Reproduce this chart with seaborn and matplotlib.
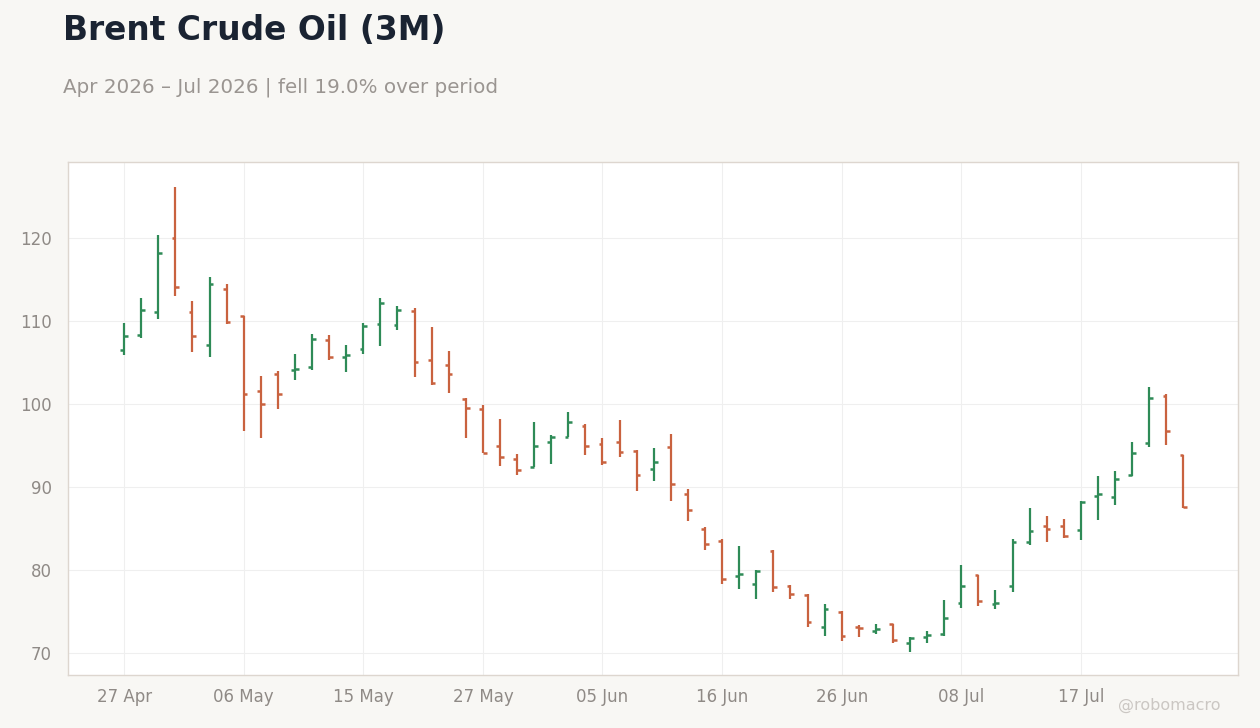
import numpy as np
import pandas as pd
import matplotlib
matplotlib.use("Agg")
import matplotlib.pyplot as plt
import seaborn as sns

# trading days (US calendar, holidays skipped)
dates = pd.bdate_range("2026-04-27", "2026-07-27", freq="C",
                       holidays=["2026-05-25", "2026-06-19", "2026-07-03"])

opens = [106.5, 108.4, 111.1, 120.1, 111.1, 107.1, 113.9, 110.6, 101.6, 103.6,
         104.1, 104.5, 107.8, 105.7, 106.7, 109.7, 109.6, 111.3, 105.3, 104.7,
         100.6, 99.4, 95.0, 93.4, 92.5, 95.5, 96.1, 97.4, 95.2, 95.5,
         94.4, 92.2, 94.9, 89.2, 85.0, 83.6, 79.3, 78.4, 82.3, 78.1,
         77.0, 73.2, 75.0, 73.2, 72.7, 73.5, 71.2, 72.0, 72.3, 76.1,
         79.4, 76.0, 78.1, 83.4, 85.3, 85.3, 84.9, 89.0, 88.9, 91.5,
         95.3, 101.0, 93.9]
highs = [109.8, 112.8, 120.4, 126.2, 112.4, 115.3, 114.5, 110.6, 103.4, 104.0,
         106.1, 108.5, 108.4, 107.2, 109.8, 112.8, 111.9, 111.6, 109.3, 106.4,
         100.8, 99.9, 98.2, 94.0, 97.9, 96.3, 99.1, 97.6, 95.9, 98.1,
         94.5, 94.7, 96.4, 89.8, 85.2, 83.8, 83.0, 80.1, 82.4, 78.2,
         77.1, 75.9, 75.1, 73.4, 73.5, 73.5, 72.0, 72.7, 76.4, 80.6,
         79.5, 77.6, 83.8, 87.5, 86.6, 86.2, 88.4, 91.4, 92.0, 95.5,
         102.1, 101.2, 93.9]
lows = [105.9, 108.0, 110.3, 113.1, 106.3, 105.7, 109.7, 96.8, 96.0, 99.5,
        102.9, 104.2, 105.4, 103.9, 106.1, 107.0, 109.0, 103.3, 102.3, 101.4,
        96.0, 94.2, 92.6, 91.5, 92.4, 92.8, 96.1, 93.9, 92.7, 93.7,
        89.6, 90.8, 88.4, 85.9, 82.4, 78.4, 77.8, 76.6, 77.4, 76.5,
        73.2, 72.1, 71.5, 72.0, 72.3, 71.2, 70.2, 71.2, 72.1, 75.5,
        75.7, 75.4, 77.4, 83.1, 83.4, 83.9, 83.7, 86.1, 87.9, 91.4,
        94.9, 95.1, 87.5]
closes = [108.2, 111.4, 118.2, 114.1, 108.2, 114.5, 109.9, 101.2, 100.0, 101.3,
          104.3, 107.9, 105.7, 105.9, 109.4, 112.2, 111.4, 105.1, 102.6, 103.6,
          99.6, 94.2, 93.7, 92.1, 95.0, 96.1, 97.9, 95.0, 93.1, 94.3,
          91.5, 93.1, 90.4, 87.3, 83.2, 79.0, 79.6, 79.9, 78.0, 77.1,
          73.8, 75.3, 72.1, 73.1, 73.0, 71.6, 71.9, 72.2, 74.3, 78.1,
          76.3, 76.1, 83.4, 84.8, 85.0, 84.2, 88.2, 89.2, 91.0, 94.1,
          100.8, 96.8, 87.6]

df = pd.DataFrame({"date": dates, "open": opens, "high": highs,
                   "low": lows, "close": closes})
df["x"] = np.arange(len(df))
df["dir"] = np.where(df.close >= df.open, "up", "down")

UP = "#2e8b57"
DOWN = "#c9623f"
BG = "#f8f7f4"
TXT = "#8f8a86"

sns.set_theme(style="whitegrid")
plt.rcParams["font.family"] = ["DejaVu Sans"]

fig = plt.figure(figsize=(12.6, 7.28), dpi=100, facecolor=BG)
ax = fig.add_axes([0.054, 0.0728, 0.9286, 0.7047])
ax.set_facecolor("white")

# high-low range as seaborn line segments
rng = df.melt(id_vars=["x", "dir"], value_vars=["low", "high"], value_name="price")
sns.lineplot(data=rng, x="x", y="price", hue="dir", units="x", estimator=None,
             palette={"up": UP, "down": DOWN}, lw=1.6, legend=False, ax=ax,
             solid_capstyle="butt")

colors = df.dir.map({"up": UP, "down": DOWN})
w = 0.22
ax.hlines(df.open, df.x - w, df.x, colors=colors, lw=1.8)
ax.hlines(df.close, df.x, df.x + w, colors=colors, lw=1.8)

ax.set_xlim(-3.28, 65.2)
ax.set_ylim(67.4, 129.2)
ax.set_yticks([70, 80, 90, 100, 110, 120])
ticks = list(range(0, len(df), 7))
ax.set_xticks(ticks)
ax.set_xticklabels([df.date[i].strftime("%d %b") for i in ticks])
ax.set_xlabel("")
ax.set_ylabel("")

ax.grid(True, color="#efefef", lw=0.8)
for s in ax.spines.values():
    s.set_color("#ddd6cf")
    s.set_linewidth(1.0)
ax.tick_params(axis="both", colors="#9a9590", labelcolor=TXT, labelsize=12,
               length=4, width=0.8)
ax.tick_params(axis="y", pad=7.5)
ax.tick_params(axis="x", pad=5)

chg = (1 - closes[-1] / closes[0]) * 100
fig.text(0.05, 0.945, "Brent Crude Oil (3M)", fontsize=23.7, fontweight="bold",
         color="#1a2332", va="baseline")
fig.text(0.05, 0.8736, f"Apr 2026 \u2013 Jul 2026 | fell {chg:.1f}% over period",
         fontsize=14.3, color="#9a9591", va="baseline")
fig.text(0.969, 0.0247, "@robomacro", fontsize=11.5, color="#cbc7c3",
         ha="right", va="baseline")

fig.savefig("out.png", dpi=100, facecolor=BG)
